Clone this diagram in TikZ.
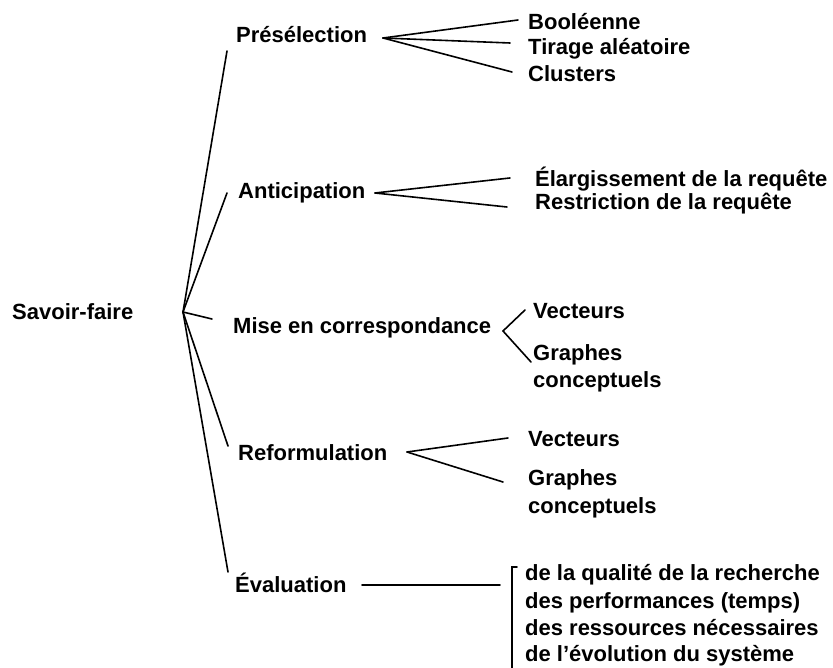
\documentclass[tikz,border=0pt]{standalone}
\usepackage{fontspec}
\setmainfont{Liberation Sans}
\begin{document}
\begin{tikzpicture}[x=1pt,y=-1pt,
  lbl/.style={anchor=base west,inner sep=0pt,font=\fontsize{22}{26}\selectfont\bfseries},
  ln/.style={line width=1.6pt,line cap=round}]
\useasboundingbox (0,0) rectangle (833,668);

% root
\node[lbl] (sf) at (12,320) {Savoir-faire};
\coordinate (root) at (183,312);

% first level
\node[lbl] (pre) at (236,43) {Présélection};
\node[lbl] (ant) at (238,199) {Anticipation};
\node[lbl] (mis) at (233,334) {Mise en correspondance};
\node[lbl] (ref) at (238,460) {Reformulation};
\node[lbl] (eva) at (235,592) {Évaluation};

\coordinate (preE) at (227,51);
\coordinate (antE) at (227,193);
\coordinate (misE) at (212,319);
\coordinate (refE) at (228,446);
\coordinate (evaE) at (228,572);

\draw[ln] (root) -- (preE);
\draw[ln] (root) -- (antE);
\draw[ln] (root) -- (misE);
\draw[ln] (root) -- (refE);
\draw[ln] (root) -- (evaE);

% Présélection
\node[lbl] (boo) at (528,30) {Booléenne};
\node[lbl] (tir) at (528,55) {Tirage aléatoire};
\node[lbl] (clu) at (528,82) {Clusters};
\coordinate (preF) at (383,38);
\draw[ln] (preF) -- (518,20);
\draw[ln] (preF) -- (510,43);
\draw[ln] (preF) -- (512,72);

% Anticipation
\node[lbl] (ela) at (535,187) {Élargissement de la requête};
\node[lbl] (res) at (535,210) {Restriction de la requête};
\coordinate (antF) at (375,193);
\draw[ln] (antF) -- (510,178);
\draw[ln] (antF) -- (507,207);

% Mise en correspondance
\node[lbl] (mv) at (533,319) {Vecteurs};
\node[lbl] (mg) at (533,360) {Graphes};
\node[lbl] (mc) at (533,388) {conceptuels};
\coordinate (misF) at (503,331);
\draw[ln] (misF) -- (525,310);
\draw[ln] (misF) -- (531,362);

% Reformulation
\node[lbl] (rv) at (528,446) {Vecteurs};
\node[lbl] (rg) at (528,485) {Graphes};
\node[lbl] (rc) at (528,513) {conceptuels};
\coordinate (refF) at (407,452);
\draw[ln] (refF) -- (508,438);
\draw[ln] (refF) -- (503,482);

% Évaluation
\coordinate (evaF) at (362,585);
\coordinate (brk) at (512,567);
\draw[ln] (evaF) -- (500,585);
\draw[ln] ([xshift=5pt]brk) -- (brk) -- (512,668);
\node[lbl] (e1) at (525,580) {de la qualité de la recherche};
\node[lbl] (e2) at (525,608) {des performances (temps)};
\node[lbl] (e3) at (525,635) {des ressources nécessaires};
\node[lbl] (e4) at (525,661) {de l’évolution du système};
\end{tikzpicture}
\end{document}
